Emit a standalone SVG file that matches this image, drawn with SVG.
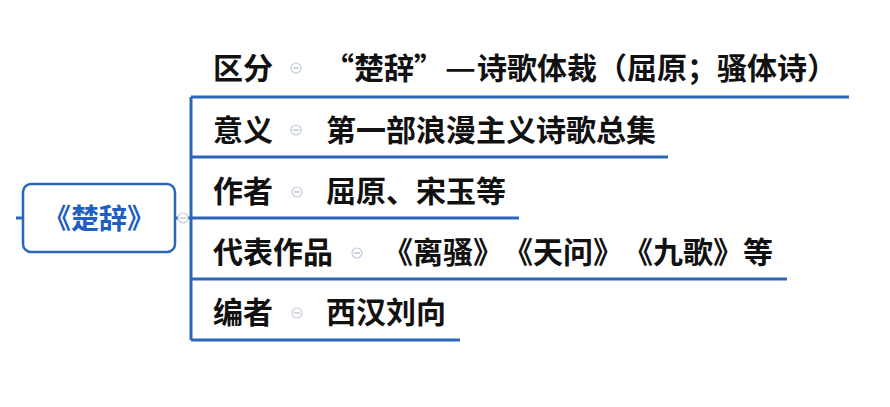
<svg xmlns="http://www.w3.org/2000/svg" width="890" height="407" viewBox="0 0 890 407">
<style>
.t{font-family:"Noto Sans CJK SC","Noto Sans",sans-serif;font-weight:700;font-size:30px;fill:#111}
.ln{stroke:#2b67b8;stroke-width:3;fill:none}
.cc{fill:#fff;stroke:#c5cbe0;stroke-width:1.2}
.cm{stroke:#b0b6cc;stroke-width:1.2}
</style>
<rect width="890" height="407" fill="#fff"/>
<g id="connectors">
<line class="ln" x1="16" y1="218" x2="23" y2="218"/>
<line class="ln" x1="176" y1="218" x2="191" y2="218"/>
<path class="ln" d="M191 97 V340"/>
<line class="ln" x1="191" y1="97" x2="849" y2="97"/>
<line class="ln" x1="191" y1="157" x2="668" y2="157"/>
<line class="ln" x1="191" y1="218" x2="519" y2="218"/>
<line class="ln" x1="191" y1="279" x2="787" y2="279"/>
<line class="ln" x1="191" y1="340" x2="460" y2="340"/>
<circle class="cc" cx="183" cy="218" r="5"/><line class="cm" x1="180" y1="218" x2="186" y2="218"/>
</g>
<g id="root">
<rect x="23" y="184" width="152" height="68" rx="8" fill="#fff" stroke="#2b67b8" stroke-width="2.5"/>
<text x="99" y="229" text-anchor="middle" style="font-family:'Noto Sans CJK SC',sans-serif;font-weight:700;font-size:28px;fill:#1f5fbf">《楚辞》</text>
</g>
<g id="n1">
<text class="t" x="213" y="79">区分</text>
<circle class="cc" cx="296" cy="68" r="5"/><line class="cm" x1="293" y1="68" x2="299" y2="68"/>
<text class="t" x="324" y="79">“楚辞”</text>
<text class="t" x="445" y="79" textLength="31" lengthAdjust="spacingAndGlyphs">—</text>
<text class="t" x="477" y="79">诗歌体裁（屈原；骚体诗）</text>
</g>
<g id="n2">
<text class="t" x="213" y="141">意义</text>
<circle class="cc" cx="296" cy="130" r="5"/><line class="cm" x1="293" y1="130" x2="299" y2="130"/>
<text class="t" x="326" y="141">第一部浪漫主义诗歌总集</text>
</g>
<g id="n3">
<text class="t" x="213" y="202">作者</text>
<circle class="cc" cx="297" cy="192" r="5"/><line class="cm" x1="294" y1="192" x2="300" y2="192"/>
<text class="t" x="326" y="202">屈原、宋玉等</text>
</g>
<g id="n4">
<text class="t" x="213" y="263">代表作品</text>
<circle class="cc" cx="357" cy="253" r="5"/><line class="cm" x1="354" y1="253" x2="360" y2="253"/>
<text class="t" x="383" y="263">《离骚》</text>
<text class="t" x="503" y="263">《天问》</text>
<text class="t" x="623" y="263">《九歌》</text>
<text class="t" x="743" y="263">等</text>
</g>
<g id="n5">
<text class="t" x="213" y="323">编者</text>
<circle class="cc" cx="297" cy="313" r="5"/><line class="cm" x1="294" y1="313" x2="300" y2="313"/>
<text class="t" x="326" y="323">西汉刘向</text>
</g>
</svg>
